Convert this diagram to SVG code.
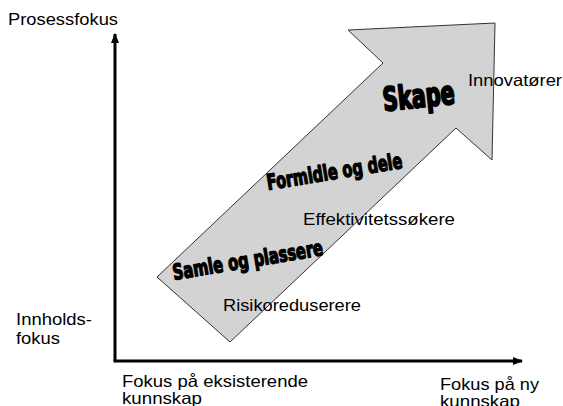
<svg xmlns="http://www.w3.org/2000/svg" width="563" height="406" viewBox="0 0 563 406">
<style>
.lbl{font-family:"Liberation Sans",Arial,sans-serif;font-size:16.5px;fill:#000;}
.wa{font-family:"Liberation Sans Narrow","DejaVu Sans Condensed","Liberation Sans",sans-serif;font-weight:bold;fill:#000;stroke:#000;stroke-width:1.1;stroke-linejoin:round;}
.axis{stroke:#000;stroke-width:3;fill:none;}
</style>
<defs>
<marker id="ah" markerWidth="10" markerHeight="8" refX="9" refY="4" orient="auto" markerUnits="userSpaceOnUse">
<path d="M0,0 L10,4 L0,8 Z" fill="#000"/>
</marker>
</defs>
<rect width="563" height="406" fill="#fff"/>
<g id="connectors">
<line class="axis" x1="115" y1="361" x2="115" y2="34" marker-end="url(#ah)"/>
<line class="axis" x1="113.5" y1="361" x2="522" y2="361" marker-end="url(#ah)"/>
</g>
<g id="big-arrow">
<polygon points="157,277 383,63 348,30 495,23 492,160 456,128 230,342" fill="#d3d3d3" stroke="#333" stroke-width="1"/>
</g>
<g id="stages">
<text class="wa" font-size="26" transform="translate(384,111) rotate(-6) scale(1,1.25)" textLength="72" lengthAdjust="spacingAndGlyphs" style="stroke-width:1.6">Skape</text>
<text class="wa" font-size="18" transform="translate(268,190) rotate(-9.3) scale(1,1.2)" textLength="137" lengthAdjust="spacingAndGlyphs">Formidle og dele</text>
<text class="wa" font-size="18" transform="translate(174,280) rotate(-9.5) scale(1,1.2)" textLength="152" lengthAdjust="spacingAndGlyphs">Samle og plassere</text>
</g>
<g id="types">
<text class="lbl" x="468" y="85.5" textLength="94" lengthAdjust="spacingAndGlyphs">Innovatører</text>
<text class="lbl" x="303" y="225" textLength="152" lengthAdjust="spacingAndGlyphs">Effektivitetssøkere</text>
<text class="lbl" x="223" y="310.5" textLength="138" lengthAdjust="spacingAndGlyphs">Risikoreduserere</text>
</g>
<g id="axis-labels">
<text class="lbl" x="8" y="25" textLength="110" lengthAdjust="spacingAndGlyphs">Prosessfokus</text>
<text class="lbl" x="16" y="325" textLength="76" lengthAdjust="spacingAndGlyphs">Innholds-</text>
<text class="lbl" x="16" y="344" textLength="44" lengthAdjust="spacingAndGlyphs">fokus</text>
<text class="lbl" x="122" y="387" textLength="186" lengthAdjust="spacingAndGlyphs">Fokus på eksisterende</text>
<text class="lbl" x="122" y="404" textLength="80" lengthAdjust="spacingAndGlyphs">kunnskap</text>
<text class="lbl" x="440" y="390" textLength="99" lengthAdjust="spacingAndGlyphs">Fokus på ny</text>
<text class="lbl" x="440" y="407" textLength="80" lengthAdjust="spacingAndGlyphs">kunnskap</text>
</g>
</svg>
